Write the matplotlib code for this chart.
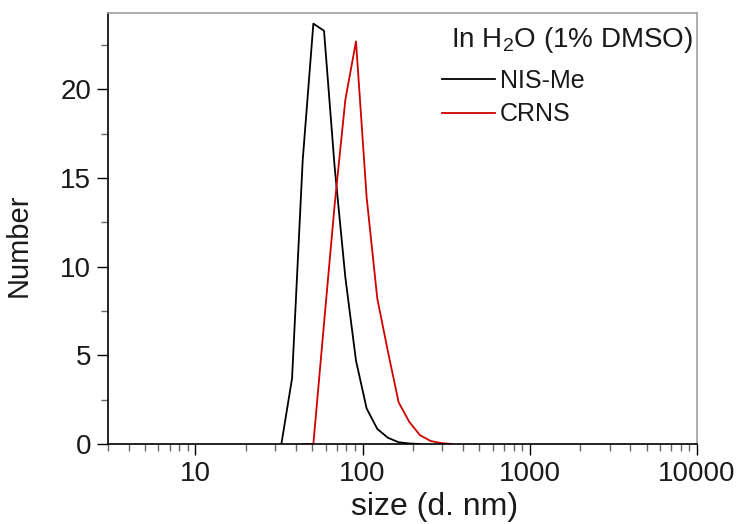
import matplotlib
matplotlib.use("Agg")
import matplotlib.pyplot as plt
from matplotlib.ticker import MultipleLocator, LogLocator, NullFormatter, FixedLocator

plt.rcParams['font.family'] = ['Liberation Sans', 'DejaVu Sans']
plt.rcParams['mathtext.fontset'] = 'custom'
plt.rcParams['mathtext.rm'] = 'Liberation Sans'
plt.rcParams['mathtext.it'] = 'Liberation Sans:italic'

# DLS size bins (d. nm)
sizes = [24.36, 28.21, 32.67, 37.84, 43.82, 50.75, 58.77, 68.06, 78.82, 91.28,
         105.7, 122.4, 141.8, 164.2, 190.1, 220.2, 255.0, 295.3, 342.0, 396.1]
nis_me = [0.0, 0.0, 0.0, 3.7, 16.0, 23.7, 23.3, 15.6, 9.4, 4.7,
          2.0, 0.85, 0.35, 0.1, 0.03, 0.0, None, None, None, None]
crns = [None, None, None, None, 0.0, 0.0, 6.8, 13.5, 19.4, 22.7,
        13.9, 8.2, 5.2, 2.35, 1.25, 0.5, 0.17, 0.05, 0.0, None]

def pairs(xs, ys):
    px, py = [], []
    for a, b in zip(xs, ys):
        if b is not None:
            px.append(a); py.append(b)
    return px, py

W, H = 742, 524
L, R, T, B = 108, 697, 13, 444
fig = plt.figure(figsize=(W/100, H/100), dpi=100)
ax = fig.add_axes([L/W, 1-B/H, (R-L)/W, (B-T)/H])

def ax_x(px):
    return (px - L) / (R - L)

def ax_y(py):
    return (B - py) / (B - T)

x1, y1 = pairs(sizes[2:], nis_me[2:])
x2, y2 = pairs(sizes, crns)
ax.plot(x1, y1, color='black', lw=1.3, label='NIS-Me')
ax.plot(x2, y2, color='#d00000', lw=1.3, label='CRNS')

ax.set_xscale('log')
ax.set_xlim(3, 10000)
ax.set_ylim(0, 24.3)
ax.yaxis.set_major_locator(FixedLocator([0, 5, 10, 15, 20]))
ax.yaxis.set_minor_locator(MultipleLocator(2.5))
ax.xaxis.set_major_locator(FixedLocator([10, 100, 1000, 10000]))
ax.xaxis.set_minor_locator(LogLocator(base=10, subs=range(2, 10), numticks=20))
ax.xaxis.set_minor_formatter(NullFormatter())
ax.set_xticklabels(['10', '100', '1000', '10000'])

txtc = '#1a1a1a'
ax.tick_params(axis='both', which='major', direction='out', length=8, width=1,
               labelsize=20, colors='black', labelcolor=txtc, pad=4)
ax.tick_params(axis='both', which='minor', direction='out', length=5, width=1,
               colors='#666666')
ax.tick_params(top=False, right=False, which='both')

for s in ['top', 'right']:
    ax.spines[s].set_color('#a0a0a0')
    ax.spines[s].set_linewidth(1.2)
for s in ['left', 'bottom']:
    ax.spines[s].set_color('black')
    ax.spines[s].set_linewidth(1.2)

ax.set_xlabel('size (d. nm)', fontsize=23, color=txtc, labelpad=4, x=ax_x(435))
ax.set_ylabel('Number', fontsize=21, color=txtc)
ax.yaxis.set_label_coords(ax_x(33), ax_y(245))

ax.text(ax_x(693), ax_y(47), 'In H$_2$O (1% DMSO)', transform=ax.transAxes,
        ha='right', va='baseline', fontsize=20, color=txtc)

leg = ax.legend(frameon=False, loc='upper left',
                bbox_to_anchor=(ax_x(442), ax_y(69)),
                fontsize=18, handlelength=2.1, handletextpad=0.2,
                labelspacing=0.37, borderaxespad=0, borderpad=0)
for t in leg.get_texts():
    t.set_color(txtc)

fig.savefig('out.png', dpi=100)
